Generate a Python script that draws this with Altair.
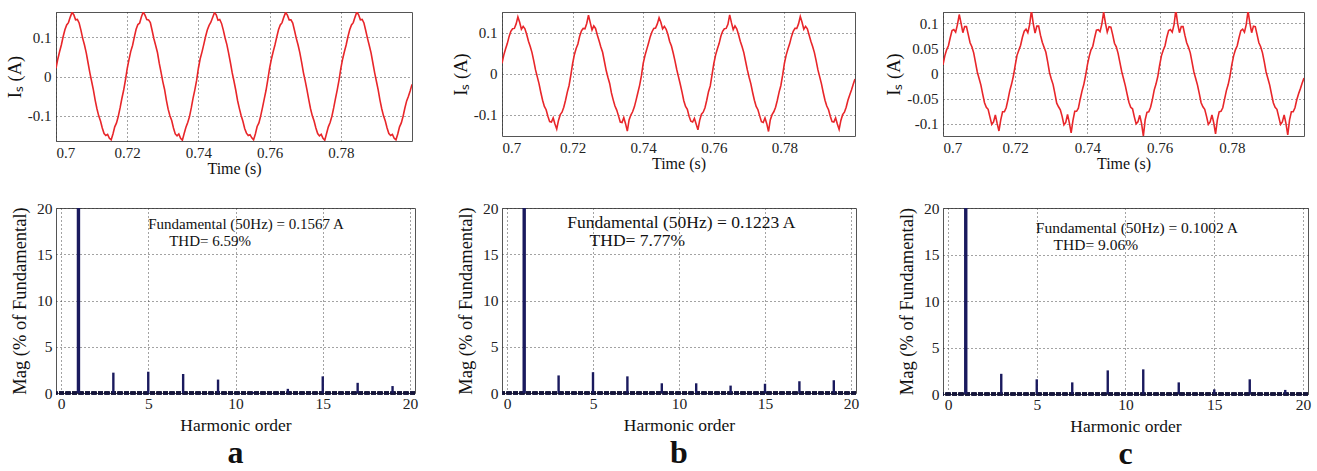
import altair as alt
import pandas as pd

FONT = "Liberation Serif"
RED = "#e8262a"
NAVY = "#1a1a5e"

# ---- top row: source current samples, 0.5 ms apart, 0.700 s .. 0.800 s ----
T0 = 0.700
DT = 0.0005

cur_a = [
    0.021, 0.044, 0.063, 0.080, 0.101, 0.119, 0.131, 0.137, 0.151, 0.163, 0.157, 0.144, 0.145, 0.136, 0.118, 0.097, 0.080, 0.060, 0.035, 0.010,
    -0.012, -0.034, -0.060, -0.082, -0.100, -0.113, -0.131, -0.145, -0.150, -0.147, -0.157, -0.161, -0.146, -0.128, -0.118, -0.101, -0.080, -0.056, -0.035, -0.009,
    0.020, 0.043, 0.064, 0.079, 0.100, 0.120, 0.132, 0.136, 0.152, 0.164, 0.156, 0.145, 0.144, 0.137, 0.117, 0.096, 0.079, 0.061, 0.034, 0.011,
    -0.013, -0.033, -0.060, -0.083, -0.100, -0.112, -0.131, -0.146, -0.151, -0.146, -0.157, -0.162, -0.145, -0.129, -0.117, -0.102, -0.080, -0.055, -0.034, -0.010,
    0.021, 0.045, 0.062, 0.081, 0.101, 0.118, 0.130, 0.138, 0.150, 0.162, 0.157, 0.143, 0.145, 0.135, 0.118, 0.098, 0.081, 0.059, 0.035, 0.009,
    -0.012, -0.035, -0.061, -0.081, -0.099, -0.114, -0.132, -0.144, -0.150, -0.148, -0.156, -0.161, -0.146, -0.127, -0.118, -0.100, -0.079, -0.057, -0.035, -0.008,
    0.021, 0.044, 0.063, 0.080, 0.100, 0.119, 0.131, 0.137, 0.151, 0.163, 0.156, 0.144, 0.144, 0.136, 0.117, 0.097, 0.080, 0.060, 0.036, 0.010,
    -0.011, -0.034, -0.059, -0.082, -0.100, -0.113, -0.131, -0.145, -0.151, -0.147, -0.157, -0.162, -0.145, -0.128, -0.117, -0.101, -0.080, -0.056, -0.034, -0.009,
    0.020, 0.044, 0.063, 0.080, 0.101, 0.119, 0.131, 0.137, 0.151, 0.164, 0.157, 0.144, 0.145, 0.136, 0.117, 0.097, 0.079, 0.060, 0.035, 0.010,
    -0.012, -0.034, -0.060, -0.082, -0.100, -0.113, -0.131, -0.145, -0.150, -0.147, -0.157, -0.161, -0.146, -0.128, -0.118, -0.101, -0.080, -0.062, -0.050, -0.036,
    -0.020,
]

cur_b = [
    0.025, 0.045, 0.060, 0.073, 0.090, 0.103, 0.109, 0.110, 0.121, 0.138, 0.125, 0.108, 0.115, 0.109, 0.095, 0.079, 0.066, 0.051, 0.031, 0.009,
    -0.008, -0.025, -0.046, -0.065, -0.080, -0.088, -0.104, -0.117, -0.118, -0.108, -0.123, -0.135, -0.114, -0.100, -0.094, -0.082, -0.065, -0.045, -0.029, -0.004,
    0.024, 0.046, 0.061, 0.072, 0.091, 0.104, 0.110, 0.109, 0.122, 0.142, 0.124, 0.106, 0.116, 0.110, 0.094, 0.080, 0.065, 0.052, 0.030, 0.008,
    -0.009, -0.024, -0.047, -0.064, -0.079, -0.089, -0.103, -0.118, -0.119, -0.107, -0.122, -0.140, -0.113, -0.101, -0.093, -0.081, -0.064, -0.046, -0.028, -0.005,
    0.025, 0.044, 0.059, 0.074, 0.090, 0.102, 0.110, 0.111, 0.121, 0.136, 0.125, 0.109, 0.115, 0.108, 0.095, 0.078, 0.067, 0.050, 0.031, 0.010,
    -0.008, -0.026, -0.045, -0.066, -0.080, -0.087, -0.104, -0.116, -0.118, -0.109, -0.123, -0.137, -0.114, -0.099, -0.094, -0.083, -0.065, -0.044, -0.030, -0.003,
    0.024, 0.045, 0.060, 0.073, 0.091, 0.103, 0.109, 0.110, 0.120, 0.143, 0.124, 0.107, 0.116, 0.109, 0.095, 0.079, 0.066, 0.051, 0.030, 0.009,
    -0.009, -0.025, -0.046, -0.065, -0.080, -0.088, -0.103, -0.117, -0.119, -0.108, -0.122, -0.141, -0.113, -0.100, -0.093, -0.082, -0.065, -0.045, -0.029, -0.004,
    0.025, 0.045, 0.060, 0.073, 0.090, 0.103, 0.110, 0.110, 0.121, 0.139, 0.125, 0.108, 0.115, 0.109, 0.094, 0.079, 0.066, 0.051, 0.031, 0.009,
    -0.008, -0.025, -0.046, -0.065, -0.079, -0.088, -0.104, -0.117, -0.118, -0.108, -0.123, -0.136, -0.114, -0.100, -0.094, -0.082, -0.065, -0.052, -0.040, -0.026,
    -0.013,
]

cur_c = [
    0.017, 0.035, 0.047, 0.055, 0.071, 0.085, 0.087, 0.082, 0.097, 0.117, 0.100, 0.081, 0.093, 0.093, 0.077, 0.061, 0.053, 0.041, 0.022, 0.003,
    -0.010, -0.023, -0.041, -0.058, -0.067, -0.071, -0.086, -0.101, -0.096, -0.082, -0.099, -0.114, -0.092, -0.076, -0.076, -0.068, -0.052, -0.034, -0.021, -0.005,
    0.016, 0.036, 0.046, 0.056, 0.072, 0.084, 0.088, 0.081, 0.097, 0.125, 0.099, 0.080, 0.094, 0.094, 0.076, 0.062, 0.052, 0.042, 0.023, 0.002,
    -0.011, -0.022, -0.040, -0.059, -0.066, -0.072, -0.085, -0.102, -0.097, -0.081, -0.098, -0.118, -0.093, -0.075, -0.075, -0.069, -0.051, -0.035, -0.022, -0.004,
    0.017, 0.034, 0.047, 0.054, 0.071, 0.086, 0.087, 0.083, 0.098, 0.122, 0.100, 0.082, 0.093, 0.092, 0.077, 0.060, 0.053, 0.040, 0.022, 0.004,
    -0.010, -0.024, -0.041, -0.057, -0.067, -0.070, -0.086, -0.100, -0.096, -0.083, -0.099, -0.124, -0.092, -0.077, -0.076, -0.067, -0.052, -0.033, -0.021, -0.006,
    0.016, 0.035, 0.046, 0.055, 0.072, 0.085, 0.087, 0.082, 0.097, 0.126, 0.099, 0.081, 0.093, 0.093, 0.076, 0.061, 0.052, 0.041, 0.022, 0.003,
    -0.010, -0.023, -0.040, -0.058, -0.066, -0.071, -0.085, -0.101, -0.096, -0.082, -0.098, -0.120, -0.092, -0.076, -0.075, -0.068, -0.051, -0.034, -0.022, -0.005,
    0.017, 0.035, 0.047, 0.055, 0.071, 0.085, 0.088, 0.082, 0.097, 0.124, 0.100, 0.081, 0.094, 0.093, 0.077, 0.061, 0.053, 0.041, 0.023, 0.003,
    -0.010, -0.023, -0.041, -0.058, -0.067, -0.071, -0.086, -0.101, -0.096, -0.082, -0.099, -0.122, -0.092, -0.076, -0.076, -0.068, -0.052, -0.040, -0.030, -0.019,
    -0.009,
]

time_ticks = [0.7, 0.72, 0.74, 0.76, 0.78]
yticks_ab = [-0.1, 0, 0.1]
yticks_c = [-0.1, -0.05, 0, 0.05, 0.1]

# ---- bottom row: harmonic spectrum (% of fundamental) ----
harm_order = [1, 3, 5, 7, 9, 11, 13, 15, 17, 19]
mag_a = [100, 2.2, 2.3, 2.05, 1.45, 0.1, 0.45, 1.8, 1.1, 0.75]
mag_b = [100, 1.9, 2.25, 1.8, 1.05, 1.05, 0.8, 1.0, 1.27, 1.38]
mag_c = [100, 2.17, 1.58, 1.25, 2.54, 2.65, 1.25, 0.5, 1.58, 0.44]
spec_ticks = [0, 5, 10, 15, 20]

fund_text = ["Fundamental (50Hz) = 0.1567 A", "Fundamental (50Hz) = 0.1223 A", "Fundamental (50Hz) = 0.1002 A"]
thd_text = ["THD= 6.59%", "THD= 7.77%", "THD= 9.06%"]
panel_letters = ["a", "b", "c"]

LBL = "''+datum.value"


def top_panel(vals, ydom, yticks, w, h):
    times = [round(T0 + DT * k, 5) for k in range(len(vals))]
    df = pd.DataFrame({"t": times, "i": vals})
    return alt.Chart(df).mark_line(color=RED, strokeWidth=1.6, clip=True).encode(
        x=alt.X("t:Q", scale=alt.Scale(domain=[0.7, 0.8], nice=False, zero=False),
                axis=alt.Axis(values=time_ticks, title="Time (s)", labelExpr=LBL,
                              labelFontSize=15, titleFontSize=16,
                              labelPadding=4, titlePadding=0)),
        y=alt.Y("i:Q", scale=alt.Scale(domain=ydom, nice=False, zero=False),
                axis=alt.Axis(values=yticks, title="Iₛ (A)", labelExpr=LBL,
                              labelFontSize=15, titleFontSize=18.5,
                              labelPadding=5, titlePadding=3)),
    ).properties(width=w, height=h)


def bottom_panel(mags, idx, tpos, fs, w, h):
    df = pd.DataFrame({"h": harm_order, "m": mags})
    xs = alt.Scale(domain=[0, 20], nice=False, zero=False)
    ys = alt.Scale(domain=[0, 20], nice=False)
    base = alt.Chart(df)
    bars = base.mark_bar(color=NAVY, clip=True).encode(
        x=alt.X("h:Q", scale=xs,
                axis=alt.Axis(values=spec_ticks, title="Harmonic order",
                              labelFontSize=15.5, titleFontSize=17.5,
                              labelPadding=3, titlePadding=5)),
        y=alt.Y("m:Q", scale=ys,
                axis=alt.Axis(values=spec_ticks, title="Mag (% of Fundamental)",
                              labelFontSize=15.5, titleFontSize=18.5,
                              labelPadding=4, titlePadding=7)),
        size=alt.condition("datum.h == 1", alt.value(3.4), alt.value(2.4)),
    )
    baseline = base.mark_rule(color="#14143a", strokeWidth=2.5, strokeDash=[5, 1.5]).encode(
        y=alt.datum(0)
    )
    tdf = pd.DataFrame({"s": [fund_text[idx]], "d": [thd_text[idx]]})
    tbase = alt.Chart(tdf)
    t1 = tbase.mark_text(align="left", baseline="middle", font=FONT, fontSize=fs, color="#111").encode(
        x=alt.datum(tpos[0]), y=alt.datum(tpos[1]), text="s:N"
    )
    t2 = tbase.mark_text(align="left", baseline="middle", font=FONT, fontSize=fs, color="#111").encode(
        x=alt.datum(tpos[2]), y=alt.datum(tpos[3]), text="d:N"
    )
    return alt.layer(baseline, bars, t1, t2).properties(
        width=w, height=h,
        title=alt.TitleParams(panel_letters[idx], orient="bottom", anchor="middle",
                              font=FONT, fontSize=32, fontWeight="bold", color="#111",
                              offset=4),
    )


panels = [
    top_panel(cur_a, [-0.164, 0.164], yticks_ab, 356, 129),
    top_panel(cur_b, [-0.152, 0.150], yticks_ab, 353, 124),
    top_panel(cur_c, [-0.124, 0.122], yticks_c, 361, 124),
    bottom_panel(mag_a, 0, [5.0, 18.3, 6.2, 16.4], 15, 359, 185),
    bottom_panel(mag_b, 1, [3.5, 18.4, 4.8, 16.4], 17.5, 354, 185),
    bottom_panel(mag_c, 2, [4.95, 17.9, 5.95, 16.0], 15.5, 365, 186),
]

chart = alt.concat(*panels, columns=3, bounds="flush", align="each",
                   spacing={"row": 67, "column": 87}).properties(
    padding={"left": 4, "top": 11, "right": 5, "bottom": 2},
    background="white",
).configure_view(
    stroke="#555", strokeWidth=1
).configure_axis(
    labelFont=FONT, labelColor="#222",
    titleFont=FONT, titleFontWeight="normal", titleColor="#111",
    grid=True, gridDash=[1, 3], gridColor="#333", gridOpacity=0.9, gridWidth=1,
    domain=False, ticks=False,
)

chart.save("out.html", embed_options={"renderer": "svg", "actions": False})
